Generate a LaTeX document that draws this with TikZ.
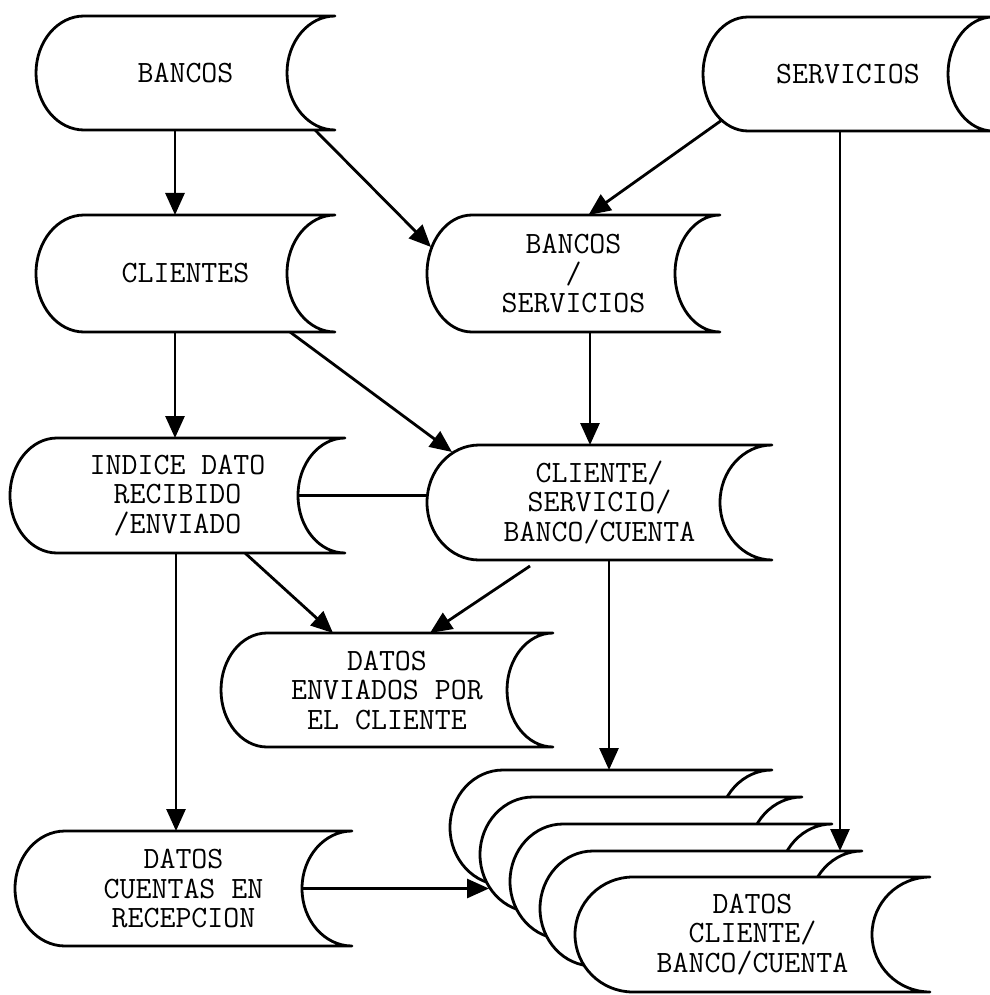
\documentclass[tikz,border=0pt]{standalone}
\usepackage{fontspec}
\usetikzlibrary{arrows.meta,calc,backgrounds}

% outline of a "stored data" symbol around a named node: #1 node, #2 arc x radius, #3 arc y radius
\newcommand\storeoutline[3]{%
  \draw[outline] ([xshift=#2]#1.north west) -- (#1.north east)
    arc[start angle=90,end angle=270,x radius=#2,y radius=#3]
    -- ([xshift=#2]#1.south west)
    arc[start angle=270,end angle=90,x radius=#2,y radius=#3] -- cycle;}

\begin{document}
\begin{tikzpicture}[x=1pt,y=1pt,
  store/.style={rectangle,inner sep=0pt,outer sep=0pt,align=center,
    font=\ttfamily\fontsize{31}{29.5}\selectfont},
  outline/.style={draw=black,fill=white,line width=2.8pt,line join=round},
  flow/.style={draw=black,line width=2.8pt,-{Triangle[length=22pt,width=19pt]}},
  link/.style={draw=black,line width=2.8pt}]

\useasboundingbox (0,0) rectangle (989,-995);

% data stores
\node[store,minimum width=299pt,minimum height=114pt] (bancos) at (185.5,-73) {BANCOS};
\node[store,minimum width=290pt,minimum height=114pt] (servicios) at (848,-74) {SERVICIOS};
\node[store,minimum width=299pt,minimum height=117pt] (clientes) at (185.5,-273.5) {CLIENTES};
\node[store,minimum width=293pt,minimum height=117pt] (bansrv) at (573.5,-273.5) {BANCOS\\/\\SERVICIOS};
\node[store,minimum width=335pt,minimum height=115pt] (indice) at (177.5,-495.5) {INDICE DATO\\RECIBIDO\\/ENVIADO};
\node[store,minimum width=345pt,minimum height=115pt] (cliserv) at (599.5,-502.5) {CLIENTE/\\SERVICIO/\\BANCO/CUENTA};
\node[store,minimum width=332pt,minimum height=114pt] (datenv) at (387,-690) {DATOS\\ENVIADOS POR\\EL CLIENTE};
\node[store,minimum width=337pt,minimum height=115pt] (datcue) at (183.5,-888.5) {DATOS\\CUENTAS EN\\RECEPCION};

% stacked stores
\node[store,minimum width=322pt,minimum height=115pt] (stack0) at (611,-827.5) {};
\node[store,minimum width=322pt,minimum height=115pt] (stack1) at (641,-854.5) {};
\node[store,minimum width=322pt,minimum height=115pt] (stack2) at (671,-881.5) {};
\node[store,minimum width=322pt,minimum height=115pt] (stack3) at (701,-908.5) {};
\node[store,minimum width=355pt,minimum height=115pt] (stack4) at (752.5,-934.5) {DATOS\\CLIENTE/\\BANCO/CUENTA};

\begin{pgfonlayer}{background}
  \fill[white] (0,0) rectangle (989,-995);
  \storeoutline{bancos}{48pt}{57pt}
  \storeoutline{servicios}{45pt}{57pt}
  \storeoutline{clientes}{48pt}{58.5pt}
  \storeoutline{bansrv}{45pt}{58.5pt}
  \storeoutline{indice}{47pt}{57.5pt}
  \storeoutline{cliserv}{52pt}{57.5pt}
  \storeoutline{datenv}{46pt}{57pt}
  \storeoutline{datcue}{50pt}{57.5pt}
  \storeoutline{stack0}{53pt}{57.5pt}
  \storeoutline{stack1}{53pt}{57.5pt}
  \storeoutline{stack2}{53pt}{57.5pt}
  \storeoutline{stack3}{53pt}{57.5pt}
  \storeoutline{stack4}{58pt}{57.5pt}
\end{pgfonlayer}

% connectors
\draw[flow] ([xshift=-10.5pt]bancos.south) -- ([xshift=-10.5pt]bancos.south |- clientes.north);
\draw[flow] ([xshift=-20pt]bancos.south east) -- ([xshift=4pt,yshift=26.5pt]bansrv.west);
\draw[flow] ([xshift=19pt,yshift=-46pt]servicios.west) -- ([xshift=15pt]bansrv.north);
\draw[flow] ([xshift=-8pt]servicios.south) -- ([xshift=-8pt]servicios.south |- stack3.north);
\draw[flow] ([xshift=-10.5pt]clientes.south) -- ([xshift=-10.5pt]clientes.south |- indice.north);
\draw[flow] ([xshift=-45pt]clientes.south east) -- ([xshift=25pt,yshift=-7pt]cliserv.north west);
\draw[flow] ([xshift=16.5pt]bansrv.south) -- ([xshift=16.5pt]bansrv.south |- cliserv.north);
\draw[link] ([xshift=-47pt]indice.east) -- (indice.east -| cliserv.west);
\draw[flow] ([xshift=67.5pt]indice.south) -- ([xshift=-54pt]datenv.north);
\draw[flow] ([xshift=-69.5pt,yshift=-6pt]cliserv.south) -- ([xshift=43pt]datenv.north);
\draw[flow] ([xshift=9.5pt]cliserv.south) -- ([xshift=9.5pt]cliserv.south |- stack0.north);
\draw[flow] ([xshift=-1.5pt]indice.south) -- ([xshift=-1.5pt]indice.south |- datcue.north);
\draw[flow] ([xshift=-50pt]datcue.east) -- ($(datcue.east -| stack1.west)+(9,0)$);

\end{tikzpicture}
\end{document}
